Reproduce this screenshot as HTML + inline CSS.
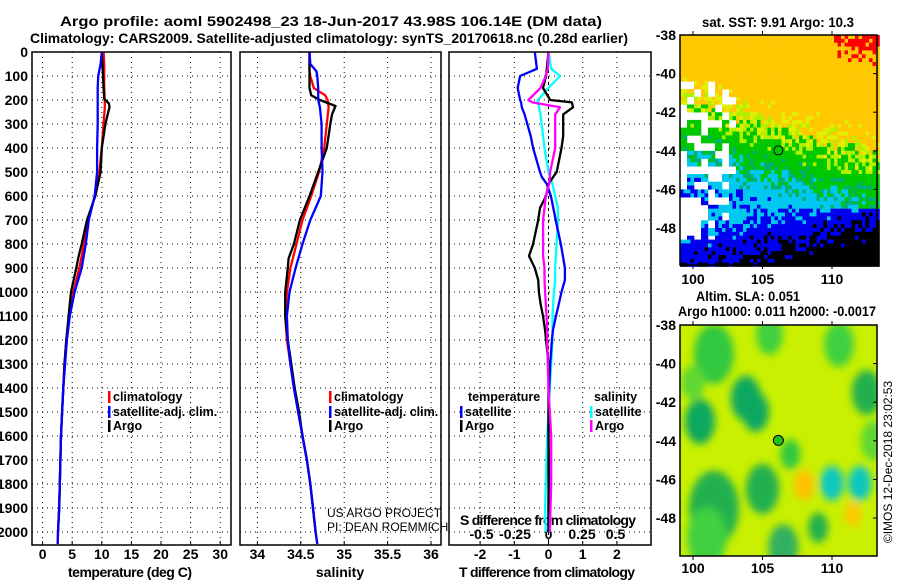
<!DOCTYPE html>
<html><head><meta charset="utf-8"><style>
html,body{margin:0;padding:0;background:#fff;}
svg{display:block;font-family:"Liberation Sans",sans-serif;}
.b{font-weight:bold;font-size:14px;}
.l{font-weight:bold;font-size:12.5px;}
</style></head><body>
<svg id="c" width="900" height="580" viewBox="0 0 900 580">
<defs><filter id="bl" x="-50%" y="-50%" width="200%" height="200%"><feGaussianBlur stdDeviation="4"/></filter>
<clipPath id="clipB"><rect x="680" y="325" width="197" height="231"/></clipPath></defs>
<text class="b" x="60" y="26" textLength="542" lengthAdjust="spacingAndGlyphs">Argo profile: aoml 5902498_23 18-Jun-2017 43.98S 106.14E (DM data)</text>
<text class="b" x="30" y="43" textLength="598" lengthAdjust="spacingAndGlyphs">Climatology: CARS2009. Satellite-adjusted climatology: synTS_20170618.nc (0.28d earlier)</text>
<text class="b" x="702" y="27" textLength="152" lengthAdjust="spacingAndGlyphs">sat. SST: 9.91 Argo: 10.3</text>
<text class="b" x="696" y="301" textLength="104" lengthAdjust="spacingAndGlyphs">Altim. SLA: 0.051</text>
<text class="b" x="678" y="316" textLength="198" lengthAdjust="spacingAndGlyphs">Argo h1000: 0.011 h2000: -0.0017</text>
<text x="892" y="462" font-size="12" text-anchor="middle" transform="rotate(-90 892 462)">©IMOS 12-Dec-2018 23:02:53</text>
<text x="327" y="517" font-size="12">US ARGO PROJECT</text>
<text x="327" y="531" font-size="12">PI: DEAN ROEMMICH</text>
<g id="g"></g>
</svg>
<script>
// ---- data ----
const tDepth=[0,50,100,150,200,230,300,400,500,600,700,800,900,1000,1100,1200,1300,1400,1500,1600,1700,1800,1900,2000,2050];
const tClim=[10.3,10.4,10.4,10.4,10.5,10.5,10.3,10.0,9.6,8.8,7.7,7.0,6.2,5.2,4.5,4.0,3.7,3.5,3.3,3.1,3.0,2.9,2.8,2.6,2.55];
const tSat=[10.0,9.8,9.4,9.3,9.3,9.3,9.3,9.2,9.2,8.8,7.8,7.3,6.6,5.4,4.6,4.1,3.8,3.5,3.3,3.1,3.0,2.9,2.8,2.6,2.55];
const aDepth=[0,50,100,150,195,215,230,260,300,400,500,600,700,800,850,900,1000,1100,1200,1300,1400,1500,1600,1700,1800,1900,2000];
const tArgo=[10.0,10.1,10.2,10.3,10.4,11.2,11.3,11.0,10.6,10.0,9.8,8.9,7.5,6.6,6.1,5.7,4.8,4.4,4.0,3.7,3.5,3.3,3.1,3.0,2.9,2.8,2.6];
const sDepth=[0,50,80,100,150,180,200,230,300,400,500,600,650,700,800,900,1000,1100,1200,1300,1400,1500,1600,1700,1800,1900,2000,2050];
const sClim=[34.6,34.6,34.6,34.61,34.65,34.78,34.81,34.82,34.80,34.77,34.71,34.62,34.57,34.52,34.45,34.38,34.34,34.32,34.34,34.38,34.42,34.47,34.52,34.57,34.61,34.64,34.67,34.69];
const sSat=[34.6,34.61,34.68,34.69,34.70,34.70,34.70,34.72,34.74,34.74,34.75,34.73,34.67,34.61,34.52,34.44,34.37,34.34,34.35,34.38,34.42,34.47,34.52,34.57,34.61,34.64,34.67,34.69];
const sArgoD=[0,50,100,150,180,200,225,260,300,400,500,600,700,800,860,900,1000,1100,1200,1300,1400,1500,1600,1700,1800,1900,2000];
const sArgo=[34.6,34.6,34.6,34.6,34.62,34.72,34.90,34.86,34.84,34.80,34.70,34.60,34.49,34.42,34.36,34.35,34.32,34.32,34.35,34.39,34.43,34.48,34.52,34.57,34.61,34.64,34.67];
const dDepth=[0,70,100,150,200,210,230,260,350,400,500,520,550,600,650,700,800,850,900,950,1000,1050,1100,1160,1200,1300,1400,1500,1600,1700,1800,1900,2000];
const dTSat=[-0.4,-0.34,-0.83,-0.9,-0.83,-0.8,-0.78,-0.7,-0.52,-0.45,-0.25,-0.2,-0.05,0.07,0.14,0.21,0.36,0.42,0.48,0.48,0.38,0.3,0.22,0.13,0.1,0.05,0.02,0.0,0.0,0.01,0.01,0.0,0.0];
const dTArgo=[0,-0.05,-0.07,-0.16,0.05,0.68,0.72,0.43,0.43,0.38,0.24,0.14,0.0,-0.07,-0.25,-0.3,-0.45,-0.57,-0.4,-0.3,-0.28,-0.23,-0.16,-0.1,-0.07,0.0,0.0,0.0,0.0,0.0,0.0,0.0,0.0];
const dSArgo=[0,-0.005,-0.02,-0.06,-0.15,-0.12,0.086,0.05,0.05,0.05,0.012,0.01,0.005,-0.02,-0.03,-0.04,-0.04,-0.04,-0.03,-0.03,-0.025,-0.02,-0.015,-0.01,-0.01,-0.005,0.0,0.01,0.02,0.02,0.02,0.015,0.01];
const dSSat=[0,0.02,0.086,0.0,-0.08,-0.08,-0.07,-0.06,-0.04,-0.03,0.0,0.01,0.03,0.05,0.07,0.07,0.06,0.055,0.05,0.05,0.04,0.035,0.03,0.03,0.03,0.02,0.01,0.0,-0.01,-0.015,-0.02,-0.025,-0.02];
const depthTicks=[0,100,200,300,400,500,600,700,800,900,1000,1100,1200,1300,1400,1500,1600,1700,1800,1900,2000];
const tTicks=[0,5,10,15,20,25,30];
const sTicks=[34,34.5,35,35.5,36];
const sTickLabels=["34","34.5","35","35.5","36"];
const dTTicks=[-2,-1,0,1,2];
const dSTicks=[-0.5,-0.25,0,0.25,0.5];
const dSTickLabels=["-0.5","-0.25","0","0.25","0.5"];
const latTicks=[-38,-40,-42,-44,-46,-48];
const lonTicks=[100,105,110];
const argoLon=106.14, argoLat=-43.98;

// ---- scales ----
const Y=d=>52+0.24*d;
const TX=t=>42.6+5.92*t;
const SX=s=>257.4+86.8*(s-34);
const DX=v=>548.5+34.2*v;
const DSX=v=>548.5+134*v;
const LX=l=>693+13.9*(l-100);
const LY1=la=>35+19.3*(-38-la);
const LY2=la=>325+19.3*(-38-la);

const NS="http://www.w3.org/2000/svg";
const G=document.getElementById('g');
function mk(tag,attrs,parent){const e=document.createElementNS(NS,tag);for(const k in attrs)e.setAttribute(k,attrs[k]);(parent||G).appendChild(e);return e;}
function txt(x,y,s,anchor,cls){const e=mk('text',{x:x,y:y,'text-anchor':anchor||'start','class':cls||'b'});e.textContent=s;return e;}

const panels=[{x0:32,x1:231,name:'temperature'},{x0:240,x1:441,name:'salinity'},{x0:449,x1:651,name:'difference'}];
const y0=52,y1=545;
panels.forEach((p,pi)=>{
  depthTicks.forEach(d=>{
    const l=mk('line',{x1:p.x0,x2:p.x1,y1:Y(d),y2:Y(d),stroke:'#000','stroke-width':1,'stroke-dasharray':'1,4'});
    
    
  });
  let xs = pi==0? tTicks.map(TX) : pi==1? sTicks.map(SX) : dTTicks.map(DX);
  xs.forEach(x=>{
    const l=mk('line',{x1:x,x2:x,y1:y0,y2:y1,stroke:'#000','stroke-width':1,'stroke-dasharray':(pi==2&&Math.abs(x-548.5)<1)?'3,3':'1,4'});
    
    
    mk('line',{x1:x,x2:x,y1:y1,y2:y1-4,stroke:'#000'});
  });
});
depthTicks.forEach(d=>{
  const t=txt(28,Y(d)+5,String(d),'end');
  
  
});
tTicks.forEach(v=>{const t=txt(TX(v),559,String(v),'middle');});
sTicks.forEach((v,i)=>{const t=txt(SX(v),559,sTickLabels[i],'middle');});
dTTicks.forEach(v=>{const t=txt(DX(v),559,String(v),'middle');});
dSTicks.forEach((v,i)=>{const t=txt(DSX(v),539,dSTickLabels[i],'middle');});
let at;
at=txt(68,577,'temperature (deg C)','start');at.setAttribute('textLength','124');
at=txt(340,577,'salinity','middle');
at=txt(459,577,'T difference from climatology','start');at.setAttribute('textLength','176');
at=txt(460,525,'S difference from climatology','start');at.setAttribute('textLength','176');

function line(xs,ds,fx,color,name){
  const pts=xs.map((v,i)=>fx(v).toFixed(1)+','+Y(ds[i]).toFixed(1)).join(' ');
  const p=mk('polyline',{points:pts,fill:'none',stroke:color,'stroke-width':2.3,'stroke-linejoin':'round'});
  
  
}
line(tClim,tDepth,TX,'#ff0000','temperature-climatology-line');
line(tArgo,aDepth,TX,'#000000','temperature-argo-line');
line(tSat,tDepth,TX,'#0000ff','temperature-satellite-line');
line(sClim,sDepth,SX,'#ff0000','salinity-climatology-line');
line(sArgo,sArgoD,SX,'#000000','salinity-argo-line');
line(sSat,sDepth,SX,'#0000ff','salinity-satellite-line');
line(dSSat,dDepth,DSX,'#00ffff','s-diff-satellite-line');
line(dTSat,dDepth,DX,'#0000ff','t-diff-satellite-line');
line(dTArgo,dDepth,DX,'#000000','t-diff-argo-line');
line(dSArgo,dDepth,DSX,'#ff00ff','s-diff-argo-line');

panels.forEach(p=>{
  const r=mk('rect',{x:p.x0,y:y0,width:p.x1-p.x0,height:y1-y0,fill:'none',stroke:'#000','stroke-width':1.5});
  
  
});

function leg(x,y,color,label,name){
  mk('rect',{x:x,y:y-10,width:2.5,height:12,fill:color});
  const t=txt(x+5,y,label,'start','l');
  
  
}
leg(108,401,'#ff0000','climatology','legend-temperature-climatology');
leg(108,416,'#0000ff','satellite-adj. clim.','legend-temperature-satellite');
leg(108,430,'#000000','Argo','legend-temperature-argo');
leg(329,401,'#ff0000','climatology','legend-salinity-climatology');
leg(329,416,'#0000ff','satellite-adj. clim.','legend-salinity-satellite');
leg(329,430,'#000000','Argo','legend-salinity-argo');
at=txt(468,401,'temperature','start','l');
at=txt(594,401,'salinity','start','l');
leg(460,416,'#0000ff','satellite','legend-t-diff-satellite');
leg(460,430,'#000000','Argo','legend-t-diff-argo');
leg(590,416,'#00ffff','satellite','legend-s-diff-satellite');
leg(590,430,'#ff00ff','Argo','legend-s-diff-argo');

// ---- SST map (texture) ----
const sst=mk('g',{});


function hsh(i,j){const v=Math.sin(i*12.9898+j*78.233)*43758.5453;return v-Math.floor(v);}
const pal=[[12.0,'#ff0000'],[10.45,'#ffc800'],[10.3,'#e0f000'],[10.1,'#b0f000'],[9.55,'#00c800'],[9.4,'#00b070'],[8.85,'#00c8f0'],[8.3,'#0000f0'],[-99,'#000000']];
const cw=3.5,ch=3.86;
for(let j=0;j<60;j++){for(let i=0;i<57;i++){
  const x=680+i*cw,y=35+j*ch; if(y>265)continue;
  const lon=99.06+(i+0.5)*cw/13.9, lat=-38-(j+0.5)*ch/19.3;
  const h=hsh(Math.floor(i/2),Math.floor(j/2)), h2=hsh(i,j);
  if(lon<103.2&&lat<-40.3&&lat>-48.5&&h>0.55)continue;
  if(lon<101.6&&lat<-46.2&&lat>-48.7&&h>0.3)continue;
  let v=9.9+(lat+44)*0.32+(lon-106)*0.07+(h2-0.5)*0.6;
  if(lat<-47)v-=(lon-106)*0.12+0.0;
  if(lat>-39.3&&lon<110)v=Math.min(v,11.9);
  let c='#000';for(const p of pal){if(v>p[0]){c=p[1];break;}}
  mk('rect',{x:x.toFixed(1),y:y.toFixed(1),width:cw+0.3,height:ch+0.3,fill:c},sst);
}}
mk('rect',{x:680,y:35,width:197,height:230,fill:'none',stroke:'#000','stroke-width':1.5});
mk('circle',{cx:LX(argoLon),cy:LY1(argoLat),r:4.5,fill:'none',stroke:'#000','stroke-width':1});

// ---- SLA map ----
const sla=mk('g',{'clip-path':'url(#clipB)'});


mk('rect',{x:680,y:325,width:197,height:231,fill:'#c8f000'},sla);
const blobs=mk('g',{filter:'url(#bl)'},sla);
const blobLon=[101.5,103.8,104.5,100.5,101.5,105,107,108,110,112,112.5,110.5,105.5,101,100,106.5,109,111.5,113];
const blobLat=[-39.5,-41.8,-42.5,-43,-47.5,-46.5,-44.7,-46.3,-46.2,-46.2,-41.5,-39,-38.5,-49,-41,-49.5,-48.5,-47.8,-44];
const blobR=[1.2,0.9,0.8,0.9,1.5,1.0,0.6,0.6,0.7,0.7,0.9,0.9,0.8,1.2,0.7,0.9,0.6,0.5,0.8];
const blobC=['#30c840','#10a860','#10a860','#10a860','#20b050','#20b050','#30c840','#ffc000','#10c8c0','#10c8c0','#20b050','#40d040','#40d040','#40d040','#60d830','#30b060','#20b050','#ffc800','#60d830'];
blobLon.forEach((l,i)=>{
  const e=mk('ellipse',{cx:LX(l),cy:LY2(blobLat[i]),rx:blobR[i]*13.9*1.2,ry:blobR[i]*19.3*1.3,fill:blobC[i]},blobs);
  
  
});
mk('rect',{x:680,y:325,width:197,height:231,fill:'none',stroke:'#000','stroke-width':1.5});
mk('circle',{cx:LX(argoLon),cy:LY2(argoLat),r:5,fill:'#20c020',stroke:'#000','stroke-width':1});

[[LY1,35,265,284],[LY2,325,556,573]].forEach(([fy,top,bot,lblY])=>{
  latTicks.forEach(la=>{
    const t=txt(676,fy(la)+5,String(la),'end');
    
    
    mk('line',{x1:877,x2:873,y1:fy(la),y2:fy(la),stroke:'#000'});
  });
  lonTicks.forEach(l=>{
    const t=txt(LX(l),lblY,String(l),'middle');
    
    
    mk('line',{x1:LX(l),x2:LX(l),y1:top,y2:top-4,stroke:'#000'});
    mk('line',{x1:LX(l),x2:LX(l),y1:bot,y2:bot+4,stroke:'#000'});
  });
});
</script>
</body></html>
